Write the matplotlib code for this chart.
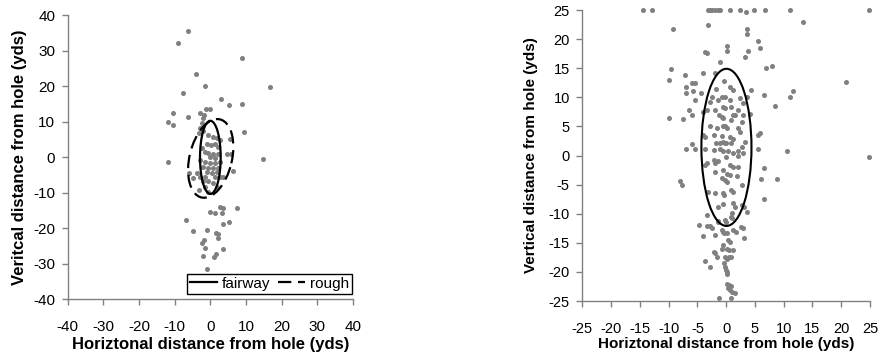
import matplotlib.pyplot as plt
from matplotlib.patches import Ellipse
from matplotlib.lines import Line2D

plt.rcParams['font.family'] = ['Liberation Sans', 'DejaVu Sans']
plt.rcParams['axes.unicode_minus'] = False

# left panel: shots (x, y) in yds
left_x = [-6.2, -9.0, 8.9, -4.0, -1.6, 16.6, -7.7, 3.1, 5.1, 9.0, -10.4, -1.2, -0.1,
          -11.8, -10.6, -6.2, -2.9, -1.8, 9.5, 14.8, -12.0, 5.5, 4.8, 5.8, 6.4, -6.1,
          -4.9, -3.1, 2.8, 3.6, 7.4, -0.2, 1.3, 3.2, 5.2, 3.5, -6.8, -4.9, -1.0, 1.6,
          2.2, 2.1, 3.5, -1.8, -2.3, -1.6, 1.5, 1.1, -2.1, -1.0,
          -2.0, -2.4, -2.9, -3.2, -2.0, -0.6, 0.8, 1.8, 2.7, -0.8, 0.1, 1.3, 2.2, -2.4,
          -1.5, -0.6, 0.8, 2.2, -0.1, 1.3, -2.9, -1.5, -0.1, 1.3, 2.7, -2.0, -0.6, 0.8,
          2.2, -1.0, 0.4, 1.8, -3.8, -2.9, -1.5, 1.3, 2.7, -2.0, -0.6, 0.8, -1.5, 1.8,
          -0.6, 3.6]
left_y = [35.5, 32.0, 28.0, 23.4, 20.0, 19.8, 18.0, 16.3, 14.7, 15.0, 12.5, 13.6, 13.4,
          10.0, 9.0, 11.2, 12.3, 11.8, 7.0, -0.6, -1.4, 5.2, 0.8, 0.8, -4.0, -4.6,
          -6.0, -9.3, -14.0, -14.4, -14.4, -15.6, -15.8, -15.8, -18.2, -18.9, -17.7, -20.8, -20.5, -21.4,
          -21.7, -22.8, -25.9, -23.5, -24.1, -25.5, -27.4, -28.2, -28.0, -31.5,
          10.9, 9.5, 8.1, 6.7, 7.2, 6.2, 5.7, 5.3, 4.8, 3.7, 3.4, 3.7, 2.9, 2.4,
          1.5, 1.0, 0.8, 0.8, 0.1, -0.4, -0.8, -1.3, -1.8, -1.8, -1.3, -2.7, -3.2, -3.2,
          -3.2, -4.1, -4.6, -4.1, -4.6, -5.5, -5.5, -5.5, -5.5, -6.9, -6.9, -7.4, -8.4, -8.4,
          -9.8, -5.5]

# right panel: shots (x, y) in yds, values beyond 25 shown at 25
right_x = [-14.4, -12.8, -3.2, -2.8, -2.4, -1.9, -1.5, -1.1, 0.6, 2.4, 4.9, 6.7, 11.1, 24.9,
           3.4, 24.9, -9.2, -3.2, 13.4, 3.7, 3.7, 0.2, 0.2, -3.7, -3.4, 5.6, 5.9, 3.8,
           3.2, -1.1, 7.9, 7.0, -9.6, -9.9, -7.2, -4.0, -1.9, 20.9, 11.7, 11.1, 6.5, 8.5,
           -10.0, -7.5, -6.0, -6.4, -5.5, -6.9, -7.0, -5.9, -5.4, -5.8, -4.4, -6.9, -6.0,
           -5.5, -8.0, -7.6, 10.5, 8.9, 6.5, 6.0, 6.5, 5.6, 5.6, 5.8, 4.1, 4.4, 3.6, -4.8,
           -3.7, -2.8, -1.2, 0.8, 3.1, 3.7,
           -0.4, 0.6, 1.2, -1.8, -2.5, -0.8, -0.2, -1.4, -2.8, 0.6, 2.4, -3.4, -1.9, -0.6,
           -0.2, 0.8, 2.0, 3.0, -4.0, -1.2, -0.8, -0.5, 1.2, 1.5, 2.9, 0.9, 2.7, -2.8, -1.6,
           -0.5, -0.2, 0.1, 2.1, -4.1, -3.7, -2.2, -0.8, 0.7, 1.2, 2.4, 3.3, -1.8, -1.1,
           -0.5, -0.2, 0.0, 0.9, 2.7, -3.7, -2.2, -1.1, -0.5, 0.4, 1.2, 2.1, -2.1, -1.5,
           0.0, 2.1, 3.0, -3.4, -3.6, -1.9, 0.7, 1.2, -0.5, 2.1, -1.9, 0.1, 0.7, -0.8,
           -0.2, 1.8, 2.7, 0.1, -3.2, -1.9, -0.5, -0.3, 0.9, 1.2, -0.5, -1.4, 1.2, 1.5,
           2.7, 3.1, -3.4, 1.1, 0.8, 1.0, -0.2, 0.0, -1.5, -1.4, -2.8, -2.5, -3.4, -0.8,
           -0.5, -0.3, 0.1, 1.2, 1.7, 2.6, 2.9, -4.0, -1.9, 0.4, 0.7, -0.5, -0.8, 0.2,
           0.5, -2.2, -1.9, 1.2, -1.6, -0.2, 0.1, 0.5, 0.9, -0.3, -0.2, -0.1, 0.1, 0.2,
           0.2, 0.5, 0.8, 0.4, 0.7, 1.0, 1.5]
right_y = [25, 25, 25, 25, 25, 25, 25, 25, 25, 25, 25, 25, 25, 25,
           24.6, -0.2, 21.7, 22.5, 22.9, 21.7, 20.9, 18.9, 18.0, 17.8, 17.6, 19.6, 18.4, 18.0,
           16.9, 16.1, 15.4, 15.0, 14.8, 13.0, 13.8, 14.1, 14.2, 12.6, 11.1, 10.1, 10.4, 8.5,
           6.4, 6.2, 6.9, 7.9, 9.5, 11.7, 10.7, 12.4, 12.5, 11.0, 10.7, 1.2, 2.0,
           1.1, -4.3, -5.1, 0.7, -4.1, -2.2, -4.0, -7.4, 1.2, 3.5, 3.8, 7.2, 11.3, 10.1, -11.9,
           -18.2, -19.1, -24.4, -24.4, -14.2, -9.7,
           12.8, 11.7, 11.3, 11.5, 10.1, 10.1, 10.0, 9.5, 9.2, 9.5, 9.8, 7.8, 7.8, 8.4,
           8.1, 8.3, 7.8, 9.0, 7.4, 7.0, 6.7, 6.4, 7.0, 7.0, 7.0, 6.1, 5.8, 5.0, 4.8,
           5.1, 5.0, 4.8, 4.7, 3.5, 3.2, 3.5, 3.4, 3.1, 2.9, 4.1, 2.4, 2.2, 2.1,
           2.4, 2.2, 2.1, 2.1, 1.5, 1.2, 0.9, 1.1, 0.7, 0.7, 0.4, 0.8, -0.7, -0.9,
           -0.3, -0.1, 0.4, -1.3, -1.6, -1.3, -1.6, -1.9, -2.5, -2.0, -2.8, -3.1, -3.4, -3.9,
           -4.2, -3.6, -5.1, -4.5, -6.2, -6.5, -6.5, -6.7, -6.0, -6.2, -8.3, -8.9, -8.2, -8.8,
           -8.5, -8.8, -10.2, -9.9, -10.5, -10.8, -11.1, -11.4, -11.3, -11.5, -12.1, -12.4, -12.1, -12.8,
           -13.1, -13.4, -13.4, -12.8, -13.1, -12.2, -12.5, -13.8, -13.7, -14.5, -14.8, -15.4, -16.0, -16.0,
           -16.2, -16.5, -16.8, -16.2, -17.4, -17.4, -17.7, -17.5, -17.5, -18.5, -19.1, -19.7, -20.0, -20.3,
           -22.0, -22.3, -22.5, -22.8, -23.1, -23.4, -23.6]

# fitted ellipses: (center x, center y, width, height, angle)
fairway_left = (0.0, -0.1, 5.8, 20.6, 0)
rough_left = (0.1, -0.4, 22.6, 11.9, 76.7)
fairway_right = (0.05, 1.4, 8.7, 27.0, 0)

dot_color = '#808080'
axis_color = '#808080'


def style_axes(ax, lim, step, tick_size, label_size, ylabel, xlab_pos, ylab_pos):
    ax.set_xlim(-lim, lim)
    ax.set_ylim(-lim, lim)
    ticks = list(range(-lim, lim + 1, step))
    ax.set_xticks(ticks)
    ax.set_yticks(ticks)
    for side in ['top', 'right']:
        ax.spines[side].set_visible(False)
    for side in ['left', 'bottom']:
        ax.spines[side].set_color(axis_color)
        ax.spines[side].set_linewidth(1)
    ax.tick_params(direction='out', length=4, width=1, color=axis_color,
                   labelsize=tick_size, labelcolor='black')
    ax.tick_params(axis='x', pad=11)
    ax.tick_params(axis='y', pad=5)
    ax.set_xlabel('Horiztonal distance from hole (yds)', fontsize=label_size,
                  fontweight='bold')
    ax.set_ylabel(ylabel, fontsize=label_size, fontweight='bold')
    ax.xaxis.set_label_coords(0.5, xlab_pos)
    ax.yaxis.set_label_coords(ylab_pos, 0.5)


fig = plt.figure(figsize=(8.84, 3.58), dpi=100)

# left panel
ax1 = fig.add_axes([0.0766, 0.1648, 0.3227, 0.7933])
ax1.scatter(left_x, left_y, s=13, color=dot_color, linewidths=0, zorder=2)
cx, cy, w, h, a = fairway_left
ax1.add_patch(Ellipse((cx, cy), w, h, angle=a, fill=False, ec='black', lw=1.6, zorder=3))
cx, cy, w, h, a = rough_left
ax1.add_patch(Ellipse((cx, cy), w, h, angle=a, fill=False, ec='black', lw=1.6,
                      linestyle=(0, (6, 3)), zorder=3))
style_axes(ax1, 40, 10, 11, 12, 'Veritcal distance from hole (yds)', -0.135, -0.143)
handles = [Line2D([], [], color='black', lw=1.6),
           Line2D([], [], color='black', lw=1.6, linestyle=(0, (6, 3)))]
leg = ax1.legend(handles, ['fairway', 'rough'], loc='lower right', ncol=2,
                 bbox_to_anchor=(0.997, 0.018), borderaxespad=0, fontsize=11,
                 fancybox=False, framealpha=1, edgecolor='black',
                 handlelength=1.8, columnspacing=0.5, handletextpad=0.3,
                 borderpad=0.2)
leg.get_frame().set_linewidth(1)
leg.set_zorder(5)

# right panel
ax2 = fig.add_axes([0.6587, 0.1592, 0.3255, 0.8128])
ax2.scatter(right_x, right_y, s=13, color=dot_color, linewidths=0, zorder=2, clip_on=False)
cx, cy, w, h, a = fairway_right
ax2.add_patch(Ellipse((cx, cy), w, h, angle=a, fill=False, ec='black', lw=1.5, zorder=3))
style_axes(ax2, 25, 5, 10.5, 11, 'Vertical distance from hole (yds)', -0.124, -0.154)

fig.savefig('out.png', dpi=100)
